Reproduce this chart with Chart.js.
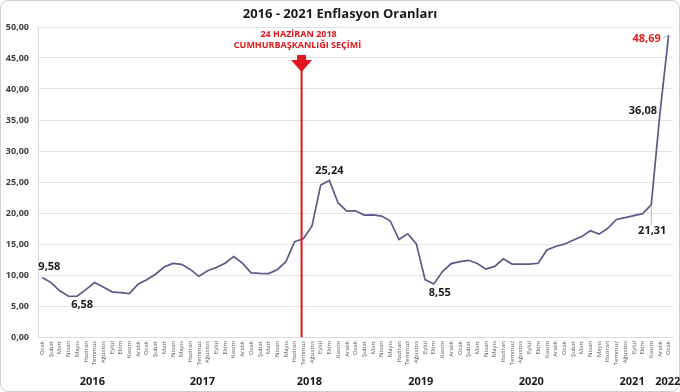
<!DOCTYPE html>
<html><head><meta charset="utf-8">
<script src="https://cdn.jsdelivr.net/npm/chart.js@4.4.0/dist/chart.umd.min.js"></script>
<style>html,body{margin:0;padding:0;background:#fff;}#wrap{width:680px;height:392px;position:relative;}</style>
</head><body><div id="wrap"><canvas id="c" width="680" height="392"></canvas></div>
<script>
const months = ['Ocak','Şubat','Mart','Nisan','Mayıs','Haziran','Temmuz','Ağustos','Eylül','Ekim','Kasım','Aralık'];
const years = ['2016','2017','2018','2019','2020','2021','2022'];
const inflation = [
  9.58, 8.78, 7.46, 6.57, 6.58, 7.64, 8.79, 8.05, 7.28, 7.16, 7.00, 8.53,
  9.22, 10.13, 11.29, 11.87, 11.72, 10.90, 9.79, 10.68, 11.20, 11.90, 12.98, 11.92,
  10.35, 10.26, 10.23, 10.85, 12.15, 15.39, 15.85, 17.90, 24.52, 25.24, 21.62, 20.30,
  20.35, 19.67, 19.71, 19.50, 18.71, 15.72, 16.65, 15.01, 9.26, 8.55, 10.56, 11.84,
  12.15, 12.37, 11.86, 10.94, 11.39, 12.62, 11.76, 11.77, 11.75, 11.89, 14.03, 14.60,
  14.97, 15.61, 16.19, 17.14, 16.59, 17.53, 18.95, 19.25, 19.58, 19.89, 21.31, 36.08,
  48.69
];
const labeledPoints = [0, 4, 33, 45, 70, 71, 72];
const chartTitle = '2016 - 2021 Enflasyon Oranları';
const eventLines = ['24 HAZİRAN 2018', 'CUMHURBAŞKANLIĞI SEÇİMİ'];
const eventIndex = 30;
const yTicks = [0, 5, 10, 15, 20, 25, 30, 35, 40, 45, 50];

const categories = [];
years.forEach((y, yi) => months.forEach((m, mi) => {
  if (yi < years.length - 1 || mi === 0) categories.push(m);
}));

const fmt = v => v.toFixed(2).replace('.', ',');
const FONT = '"Open Sans", sans-serif';

// layout-only settings for labels (pixel offsets relative to the data point)
const labelStyle = {
  0: {dx: 7, dy: -11, color: '#1a1a1a'},
  4: {dx: 5, dy: 9, color: '#1a1a1a'},
  33: {dx: 0, dy: -10, color: '#1a1a1a'},
  45: {dx: 6, dy: 9, color: '#1a1a1a'},
  70: {dx: 1, dy: 26, color: '#1a1a1a', leader: true},
  71: {dx: -17, dy: -2, color: '#1a1a1a'},
  72: {dx: -22, dy: 4, color: '#e0201f', leader: true}
};
const yearPos = [5.75, 18.4, 30.7, 43.5, 56.2, 67.8, 71.9];

const decor = {
  id: 'decor',
  beforeDraw(chart) {
    const ctx = chart.ctx;
    ctx.save();
    ctx.fillStyle = '#fff';
    ctx.fillRect(0, 0, chart.width, chart.height);
    ctx.strokeStyle = '#cfcfcf';
    ctx.lineWidth = 1;
    ctx.beginPath();
    ctx.roundRect(0.5, 0.5, chart.width - 1, chart.height - 1, 8);
    ctx.stroke();
    ctx.restore();
  },
  afterDatasetsDraw(chart) {
    const ctx = chart.ctx;
    const xs = chart.scales.x, ys = chart.scales.y;
    ctx.save();
    // event line + arrow
    const ex = xs.getPixelForValue(eventIndex - 0.2);
    ctx.strokeStyle = '#e3151c';
    ctx.lineWidth = 2;
    ctx.beginPath();
    ctx.moveTo(ex, 70);
    ctx.lineTo(ex, chart.chartArea.bottom);
    ctx.stroke();
    ctx.fillStyle = '#e3151c';
    ctx.beginPath();
    ctx.moveTo(ex - 4.5, 55);
    ctx.lineTo(ex + 4.5, 55);
    ctx.lineTo(ex + 4.5, 60);
    ctx.lineTo(ex + 10.5, 60);
    ctx.lineTo(ex, 72);
    ctx.lineTo(ex - 10.5, 60);
    ctx.lineTo(ex - 4.5, 60);
    ctx.closePath();
    ctx.fill();
    ctx.font = 'bold 9px ' + FONT;
    ctx.textAlign = 'center';
    ctx.textBaseline = 'middle';
    ctx.fillStyle = '#e3151c';
    ctx.fillText(eventLines[0], ex - 3, 34);
    ctx.fillText(eventLines[1], ex - 4, 45.5);

    // data labels
    ctx.font = 'bold 11px ' + FONT;
    labeledPoints.forEach(i => {
      const st = labelStyle[i];
      const px = xs.getPixelForValue(i), py = ys.getPixelForValue(inflation[i]);
      const lx = px + st.dx, ly = py + st.dy;
      if (st.leader) {
        ctx.strokeStyle = '#a6a6a6';
        ctx.lineWidth = 0.8;
        ctx.beginPath();
        if (i === 70) { ctx.moveTo(px, py); ctx.lineTo(px, ly - 6); }
        else { ctx.moveTo(lx + 16, ly - 1); ctx.lineTo(px, py); }
        ctx.stroke();
      }
      ctx.fillStyle = st.color;
      ctx.fillText(fmt(inflation[i]), lx, ly);
    });

    // title
    ctx.font = 'bold 13px ' + FONT;
    ctx.fillStyle = '#1a1a1a';
    ctx.fillText(chartTitle, 340, 14);

    // year labels
    ctx.font = 'bold 11px ' + FONT;
    years.forEach((y, k) => {
      ctx.fillText(y, xs.getPixelForValue(yearPos[k]), 382);
    });
    ctx.restore();
  }
};

new Chart(document.getElementById('c'), {
  type: 'line',
  data: {
    labels: categories,
    datasets: [{
      data: inflation,
      borderColor: '#5b5a88',
      borderWidth: 1.7,
      pointRadius: 0,
      tension: 0,
      fill: false
    }]
  },
  options: {
    responsive: false,
    animation: false,
    devicePixelRatio: 1,
    layout: {padding: {top: 27, right: 7, bottom: 0, left: 0}},
    plugins: {legend: {display: false}, tooltip: {enabled: false}, title: {display: false}},
    scales: {
      x: {
        type: 'category',
        offset: true,
        grid: {display: false, drawTicks: false},
        border: {display: true, color: '#d9d9d9', width: 1},
        ticks: {
          autoSkip: false, minRotation: 90, maxRotation: 90,
          font: {family: FONT, size: 6}, color: '#595959', padding: 4
        },
        afterFit(s) { s.height = 55; }
      },
      y: {
        min: 0, max: 50,
        afterBuildTicks(s) { s.ticks = yTicks.map(v => ({value: v})); },
        grid: {color: '#e3e3e3', drawTicks: false, lineWidth: 1},
        border: {display: true, color: '#d9d9d9'},
        ticks: {
          font: {family: FONT, size: 9, weight: 'bold'}, color: '#3f3f3f', padding: 9,
          callback: v => fmt(v)
        },
        afterFit(s) { s.width = 38; }
      }
    }
  },
  plugins: [decor]
});
</script>
</body></html>
